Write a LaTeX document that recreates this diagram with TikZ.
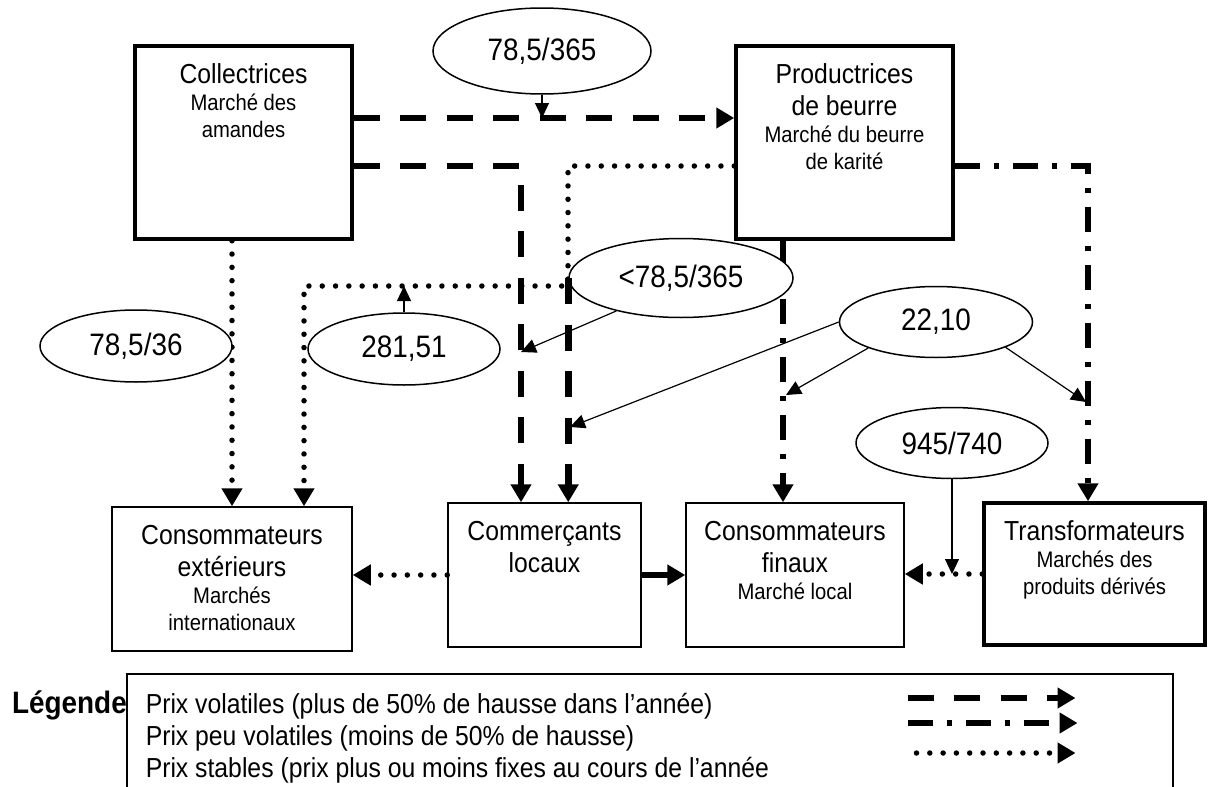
\documentclass[tikz,border=0pt]{standalone}
\usepackage{fontspec}
\setmainfont{Liberation Sans}[FakeStretch=0.9]
\usetikzlibrary{arrows.meta}
\usetikzlibrary{shapes.geometric}

\newcommand{\bigtxt}{\fontsize{27.5}{32}\selectfont}
\newcommand{\smalltxt}{\fontsize{22.5}{27}\selectfont}
\newcommand{\legtxt}{\fontsize{27.5}{32}\selectfont}
\newcommand{\boxtxt}[3]{\parbox[t][#1][t]{#2}{\centering #3}}

\tikzset{
  bigbox/.style={draw, line width=3.5pt, inner xsep=0pt, inner ysep=18pt},
  smallbox/.style={draw, line width=1.5pt, inner xsep=0pt, inner ysep=18pt},
  oval/.style={ellipse, draw, line width=1.5pt, fill=white, inner sep=0pt, font=\fontsize{31}{34}\selectfont},
  dashline/.style={line width=6.5pt, dash pattern=on 26pt off 20.5pt, ->, >={Triangle[length=18pt,width=20pt]}},
  dashdotline/.style={line width=6.5pt, dash pattern=on 25pt off 14pt on 5pt off 14pt, ->, >={Triangle[length=18pt,width=20pt]}},
  dotline/.style={line width=5.5pt, line cap=round, dash pattern=on 0pt off 13.3pt, ->, >={Triangle[length=18pt,width=20pt]}},
  solidline/.style={line width=6.5pt, ->, >={Triangle[length=18pt,width=20pt]}},
  thinarrow/.style={line width=1.2pt, ->, >={Triangle[length=15pt,width=14pt]}}
}

\begin{document}
\begin{tikzpicture}[x=1pt,y=-1pt]
\useasboundingbox (0,0) rectangle (1208,787);
\node[bigbox] (coll) at (243.5,142.5) {\boxtxt{157pt}{217pt}{\bigtxt Collectrices\par\smalltxt Marché des\\amandes}};
\node[bigbox] (prod) at (844.5,142.5) {\boxtxt{157pt}{217pt}{\bigtxt Productrices\\de beurre\par\smalltxt Marché du beurre\\de karité}};
\node[smallbox] (ext) at (232,579) {\boxtxt{108pt}{240pt}{\bigtxt Consommateurs\\extérieurs\par\smalltxt Marchés\\internationaux}};
\node[smallbox] (comm) at (544.5,575) {\boxtxt{108pt}{193pt}{\bigtxt Commerçants\\locaux}};
\node[smallbox] (fin) at (795,575) {\boxtxt{108pt}{218pt}{\bigtxt Consommateurs\\finaux\par\smalltxt Marché local}};
\node[bigbox] (trans) at (1094.5,574) {\boxtxt{106pt}{221pt}{\bigtxt Transformateurs\par\smalltxt Marchés des\\produits dérivés}};

\draw[dashline] (coll.east |- 0,118) -- (prod.west |- 0,118);
\draw[dashline] (coll.east |- 0,166) -| ([xshift=-23.5pt]comm.north);
\draw[dotline] (prod.west |- 0,166) -| (568,286) -| ([xshift=72pt]ext.north);
\draw[dotline] (coll.south -| ext.north) -- (ext.north);
\draw[dashdotline] ([xshift=-61.5pt]prod.south) -- ([xshift=-12pt]fin.north);
\draw[dashdotline] (prod.east |- 0,166) -| ([xshift=-6.5pt]trans.north);
\draw[dotline] (comm.west) -- (comm.west -| ext.east);
\draw[solidline] (comm.east) -- (fin.west);
\draw[dotline] (trans.west) -- (trans.west -| fin.east);

\node[oval, minimum width=218pt, minimum height=86pt] (e1) at (542,51) {78,5/365};
\node[oval, minimum width=192pt, minimum height=72pt] (e2) at (136,346) {78,5/36};
\node[oval, minimum width=192pt, minimum height=72pt] (e3) at (404,349) {281,51};
\node[oval, minimum width=224pt, minimum height=79pt] (e4) at (681,278) {<78,5/365};
\node[oval, minimum width=193pt, minimum height=71pt] (e5) at (936,322) {22,10};
\node[oval, minimum width=192pt, minimum height=71pt] (e6) at (952,443) {945/740};

\coordinate (t1) at (570,427);
\coordinate (t2) at (786,395);
\coordinate (t3) at (1086,402);
\coordinate (t4) at (521,352);
\draw[dashline] (e4.west) -- (e4.west |- comm.north);
\draw[thinarrow] (e1.south) -- (e1.south |- 0,118);
\draw[thinarrow] (e3.north) -- (e3.north |- 0,286);
\draw[thinarrow] (e4.207) -- (t4);
\draw[thinarrow] (e5.west) -- (t1);
\draw[thinarrow] (e5.201) -- (t2);
\draw[thinarrow] (e5.340) -- (t3);
\draw[thinarrow] (e6.south) -- (e6.south |- trans.west);

\node[smallbox, anchor=north west, inner sep=19pt] (leg) at (126,673) {\parbox[t][90pt][t]{1008pt}{\raggedright\legtxt Prix volatiles (plus de 50\% de hausse dans l’année)\\Prix peu volatiles (moins de 50\% de hausse)\\Prix stables (prix plus ou moins fixes au cours de l’année}};
\node[anchor=east, inner sep=0pt, font=\bfseries\fontsize{31}{34}\selectfont] (legT) at (127,705) {Légende};
\draw[dashline] (leg.north east) ++(-266,25) -- ++(168,0);
\draw[dashdotline] (leg.north east) ++(-266,50) -- ++(170,0);
\draw[dotline] (leg.north east) ++(-257,80) -- ++(159,0);
\end{tikzpicture}
\end{document}
